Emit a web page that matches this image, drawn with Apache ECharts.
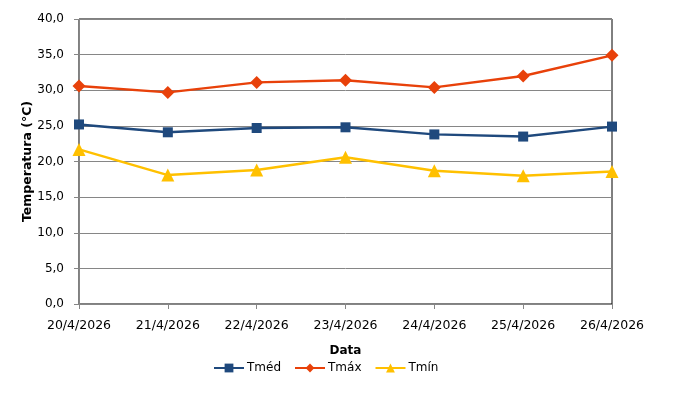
<!DOCTYPE html>
<html>
<head>
<meta charset="utf-8">
<script src="https://cdn.jsdelivr.net/npm/echarts@6/dist/echarts.min.js"></script>
<style>
  html, body { margin: 0; padding: 0; background: #fff; }
  #chart { width: 677px; height: 400px; }
</style>
</head>
<body>
<div id="chart"></div>
<script>
// datas do eixo x
var datas = ['20/4/2026', '21/4/2026', '22/4/2026', '23/4/2026', '24/4/2026', '25/4/2026', '26/4/2026'];
// temperaturas (°C)
var tmed = [25.2, 24.1, 24.7, 24.8, 23.8, 23.5, 24.9];
var tmax = [30.6, 29.7, 31.1, 31.4, 30.4, 32.0, 34.9];
var tmin = [21.7, 18.1, 18.8, 20.6, 18.7, 18.0, 18.6];

var cores = ['#1F497D', '#E8410A', '#FFC000'];
var fonte = 'DejaVu Sans';

function serie(nome, dados, cor, simbolo, tam) {
	return {
		name: nome,
		type: 'line',
		data: dados,
		symbol: simbolo,
		symbolSize: tam,
		showAllSymbol: true,
		lineStyle: { color: cor, width: 2.4 },
		itemStyle: { color: cor, borderWidth: 0 },
		emphasis: { disabled: true }
	};
}

var chart = echarts.init(document.getElementById('chart'));
chart.setOption({
	animation: false,
	textStyle: { fontFamily: fonte },
	grid: {
		left: 79, right: 65, top: 19, bottom: 96,
		show: true, borderColor: '#000', borderWidth: 1
	},
	legend: {
		bottom: 21,
		left: 208,
		itemWidth: 30, itemHeight: 11, itemGap: 13,
		textStyle: { fontFamily: fonte, fontSize: 12, color: '#000', padding: [0, 0, 0, -2] },
		data: ['Tméd', 'Tmáx', 'Tmín']
	},
	xAxis: {
		type: 'category',
		data: datas,
		boundaryGap: false,
		name: 'Data',
		nameLocation: 'middle',
		nameGap: 41,
		nameMoveOverlap: false,
		nameTextStyle: { fontFamily: fonte, fontSize: 12, fontWeight: 'bold', color: '#000' },
		axisLine: { lineStyle: { color: '#868686', width: 1 } },
		axisTick: { show: true, alignWithLabel: true, length: 5, lineStyle: { color: '#868686' } },
		axisLabel: { color: '#000', fontSize: 12.5, margin: 15, fontFamily: fonte },
		splitLine: { show: false }
	},
	yAxis: {
		type: 'value',
		min: 0, max: 40, interval: 5,
		name: 'Temperatura (°C)',
		nameLocation: 'middle',
		nameGap: 45,
		nameMoveOverlap: false,
		nameTextStyle: { fontFamily: fonte, fontSize: 12.5, fontWeight: 'bold', color: '#000' },
		axisLine: { show: true, lineStyle: { color: '#868686', width: 1 } },
		axisTick: { show: true, length: 5, lineStyle: { color: '#868686' } },
		axisLabel: {
			color: '#000', fontSize: 12, margin: 15, fontFamily: fonte,
			formatter: function (v) { return v.toFixed(1).replace('.', ','); }
		},
		splitLine: { lineStyle: { color: '#868686', width: 1 } }
	},
	series: [
		serie('Tméd', tmed, cores[0], 'rect', 10),
		serie('Tmáx', tmax, cores[1], 'diamond', 13),
		serie('Tmín', tmin, cores[2], 'triangle', 13)
	]
});
</script>
</body>
</html>
